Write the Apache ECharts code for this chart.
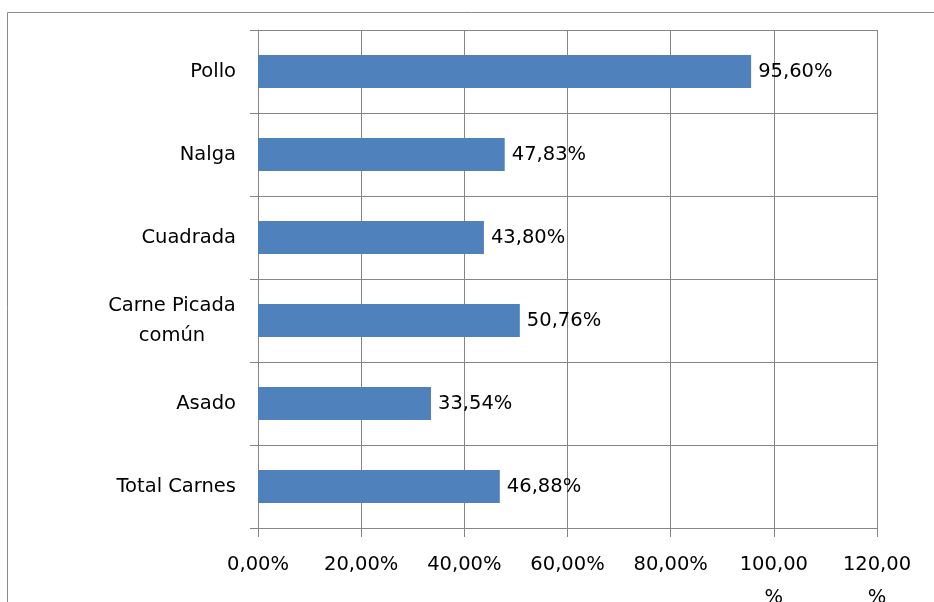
<!DOCTYPE html>
<html>
<head>
<meta charset="utf-8">
<script src="https://cdn.jsdelivr.net/npm/echarts@6/dist/echarts.min.js"></script>
<style>html,body{margin:0;padding:0;background:#fff}#c{width:934px;height:602px}</style>
</head>
<body>
<div id="c"></div>
<script>
const categories = ['Pollo', 'Nalga', 'Cuadrada', 'Carne Picada\ncomún', 'Asado', 'Total Carnes'];
const values = [95.60, 47.83, 43.80, 50.76, 33.54, 46.88];
const xTicks = [0, 20, 40, 60, 80, 100, 120];

const fmt = v => v.toFixed(2).replace('.', ',') + '%';
const font = 'DejaVu Sans';
const fs = 19.5;
const chart = echarts.init(document.getElementById('c'), null, {renderer: 'canvas'});
chart.setOption({
  animation: false,
  graphic: [{
    type: 'rect', shape: {x: 7.5, y: 12.5, width: 960, height: 640},
    style: {fill: 'none', stroke: '#8a8a8a', lineWidth: 1}, silent: true
  }],
  grid: {left: 258, top: 30, right: 57, bottom: 74, containLabel: false, outerBoundsMode: 'none'},
  xAxis: {
    type: 'value', min: xTicks[0], max: xTicks[xTicks.length - 1], interval: 20,
    axisLine: {show: true, lineStyle: {color: '#868686'}},
    axisTick: {show: true, length: 9, lineStyle: {color: '#868686'}},
    splitLine: {show: true, lineStyle: {color: '#868686'}},
    axisLabel: {
      margin: 20, fontFamily: font, fontSize: fs, color: '#000', lineHeight: 33,
      formatter: v => v >= 100 ? v.toFixed(2).replace('.', ',') + '\n%' : fmt(v)
    }
  },
  yAxis: {
    type: 'category', data: categories, inverse: true,
    axisLine: {show: true, lineStyle: {color: '#868686'}},
    axisTick: {show: true, length: 8, lineStyle: {color: '#868686'}},
    splitLine: {show: true, lineStyle: {color: '#868686'}},
    axisLabel: {
      margin: 22, fontFamily: font, fontSize: fs, color: '#000', lineHeight: 28,
      formatter: v => v.indexOf('\n') >= 0 ? '{m|' + v + '}' : v,
      rich: {m: {width: 128, align: 'center', fontFamily: font, fontSize: fs, lineHeight: 30, color: '#000'}}
    }
  },
  series: [{
    type: 'bar', data: values, barWidth: 33,
    itemStyle: {color: '#4F81BD'},
    label: {show: true, position: 'right', distance: 7, fontFamily: font, fontSize: fs, color: '#000',
      formatter: p => fmt(p.value)}
  }]
});
</script>
</body>
</html>
